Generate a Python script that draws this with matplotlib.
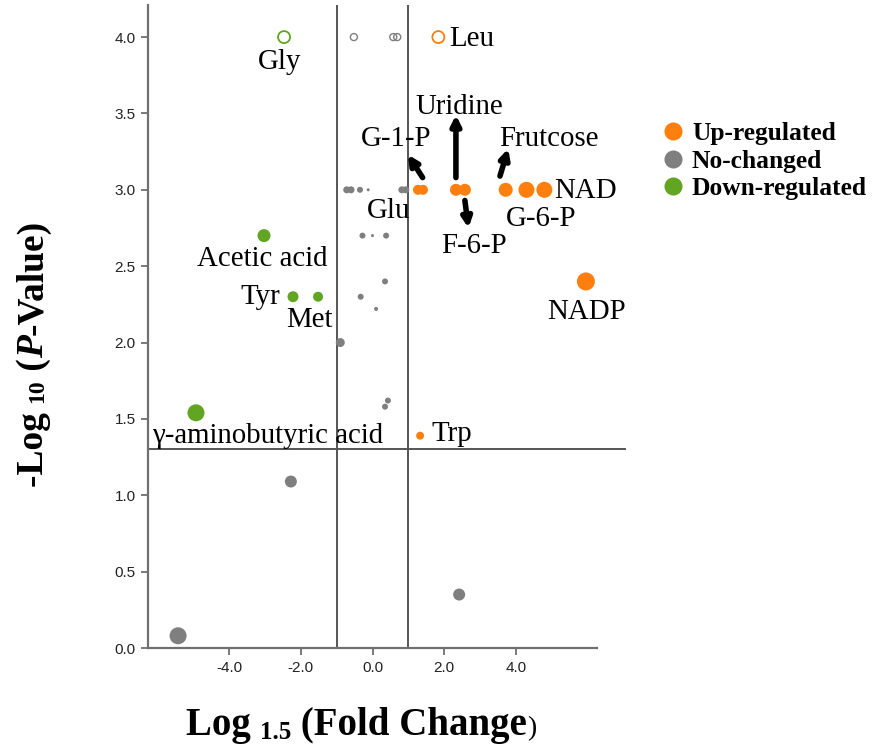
import matplotlib
matplotlib.use('Agg')
import matplotlib.pyplot as plt
from matplotlib.lines import Line2D
import numpy as np

# ---------------- data ----------------
# Up-regulated (filled orange)
up_x = [1.27, 1.41, 2.33, 2.58, 3.72, 4.30, 4.80, 5.96, 1.33]
up_y = [3.00, 3.00, 3.00, 3.00, 3.00, 3.00, 3.00, 2.40, 1.39]
up_r = [5.0, 5.0, 6.0, 6.0, 7.0, 8.0, 8.0, 9.0, 4.0]
# Down-regulated (filled green)
down_x = [-3.03, -2.22, -1.52, -4.93]
down_y = [2.70, 2.30, 2.30, 1.54]
down_r = [6.5, 5.5, 5.0, 8.5]
# No-changed (filled gray)
ns_x = [-0.72, -0.60, -0.35, -0.12, 0.82, 0.93,
        -0.28, 0.00, 0.38, 0.35, -0.33, 0.10, -0.90,
        0.43, 0.35, -2.28, 2.42, -5.43]
ns_y = [3.00, 3.00, 3.00, 3.00, 3.00, 3.00,
        2.70, 2.70, 2.70, 2.40, 2.30, 2.22, 2.00,
        1.62, 1.58, 1.09, 0.35, 0.08]
ns_r = [3.5, 3.5, 3.0, 1.5, 3.5, 3.5,
        3.0, 1.5, 3.0, 3.0, 3.0, 2.0, 4.5,
        3.0, 3.0, 6.0, 6.0, 8.5]
# Open (hollow) circles at the top
open_up_x, open_up_y, open_up_r = [1.84], [4.0], [6.0]
open_down_x, open_down_y, open_down_r = [-2.47], [4.0], [6.0]
open_ns_x = [-0.52, 0.58, 0.69]
open_ns_y = [4.0, 4.0, 4.0]
open_ns_r = [3.5, 3.5, 3.5]

fc_threshold = [-1.0, 1.0]
p_threshold = 1.3

xticks = [-4, -2, 0, 2, 4]
yticks = [0.0, 0.5, 1.0, 1.5, 2.0, 2.5, 3.0, 3.5, 4.0]
legend_labels = ['Up-regulated', 'No-changed', 'Down-regulated']

C_UP = '#ff7f0e'
C_NS = '#7f7f7f'
C_DOWN = '#62a523'

# ---------------- figure ----------------
W, H = 872, 747
fig = plt.figure(figsize=(W / 100, H / 100), dpi=100)
ax = fig.add_axes([148 / W, (H - 648) / H, (597 - 148) / W, (648 - 5) / H])
ax.set_xlim(-6.27, 6.27)
ax.set_ylim(0, 4.21)


def s_of(r):
    return (2 * np.asarray(r) * 0.72) ** 2


ax.scatter(ns_x, ns_y, s=s_of(ns_r), c=C_NS, edgecolors='none', zorder=3)
ax.scatter(up_x, up_y, s=s_of(up_r), c=C_UP, edgecolors='none', zorder=3)
ax.scatter(down_x, down_y, s=s_of(down_r), c=C_DOWN, edgecolors='none', zorder=3)
ax.scatter(open_ns_x, open_ns_y, s=s_of(open_ns_r), facecolors='none',
           edgecolors=C_NS, linewidths=1.0, zorder=3)
ax.scatter(open_up_x, open_up_y, s=s_of(open_up_r), facecolors='none',
           edgecolors=C_UP, linewidths=1.3, zorder=3)
ax.scatter(open_down_x, open_down_y, s=s_of(open_down_r), facecolors='none',
           edgecolors=C_DOWN, linewidths=1.3, zorder=3)

# threshold lines
for xv in fc_threshold:
    ax.axvline(xv, color='#555555', lw=1.4, zorder=1)
ax.plot([-6.27, 7.05], [p_threshold, p_threshold], color='#555555', lw=1.4,
        clip_on=False, zorder=1)

# spines / ticks
for sp in ['top', 'right']:
    ax.spines[sp].set_visible(False)
for sp in ['left', 'bottom']:
    ax.spines[sp].set_color('#707070')
    ax.spines[sp].set_linewidth(1.6)
ax.set_xticks(xticks)
ax.set_xticklabels([f'{v:.1f}' for v in xticks])
ax.set_yticks(yticks)
ax.set_yticklabels([f'{v:.1f}' for v in yticks])
ax.tick_params(direction='out', length=5, width=1.3, color='#707070',
               labelsize=11, labelcolor='#222222', pad=4)
for lab in ax.get_xticklabels() + ax.get_yticklabels():
    lab.set_family('Liberation Sans')

# annotations
tfont = dict(family='Liberation Serif', fontsize=20.8, color='black')
labels = [
    ('Gly', -2.58, 3.84, 'center'),
    ('Leu', 2.13, 3.99, 'left'),
    ('Uridine', 2.42, 3.54, 'center'),
    ('G-1-P', 0.66, 3.33, 'center'),
    ('Frutcose', 4.93, 3.33, 'center'),
    ('NAD', 5.08, 2.99, 'left'),
    ('G-6-P', 4.71, 2.81, 'center'),
    ('F-6-P', 2.84, 2.63, 'center'),
    ('Glu', 0.46, 2.86, 'center'),
    ('Acetic acid', -3.09, 2.55, 'center'),
    ('Tyr', -3.14, 2.30, 'center'),
    ('Met', -1.77, 2.15, 'center'),
    ('NADP', 5.99, 2.20, 'center'),
    ('\u03b3-aminobutyric acid', -2.92, 1.39, 'center'),
    ('Trp', 1.66, 1.40, 'left'),
]
for s, x, y, ha in labels:
    ax.text(x, y, s, ha=ha, va='center', zorder=4, **tfont)

arrows = [
    ((1.40, 3.08), (0.99, 3.23)),
    ((2.33, 3.08), (2.33, 3.49)),
    ((3.56, 3.09), (3.79, 3.27)),
    ((2.58, 2.93), (2.68, 2.75)),
]
for tail, head in arrows:
    ax.annotate('', xy=head, xytext=tail,
                arrowprops=dict(arrowstyle='-|>', lw=4, color='black',
                                mutation_scale=14, shrinkA=0, shrinkB=0),
                zorder=5)

# legend
handles = [Line2D([], [], marker='o', ls='', markersize=13,
                  markerfacecolor=c, markeredgecolor='none', label=l)
           for c, l in zip([C_UP, C_NS, C_DOWN], legend_labels)]
fig.legend(handles=handles, loc='upper left',
           bbox_to_anchor=(660 / W, (H - 122) / H), frameon=False,
           prop=dict(family='Liberation Serif', weight='bold', size=18.4),
           handletextpad=0.25, labelspacing=0.18, handlelength=1.0,
           borderpad=0, borderaxespad=0)

# axis labels built from pieces
renderer = fig.canvas.get_renderer()


def pieces_label(pieces, cx, cy, vertical=False):
    objs = []
    for s, size, weight, style, shift in pieces:
        t = fig.text(0, 0, s, fontsize=size, fontweight=weight, fontstyle=style,
                     family='Liberation Serif', transform=None, ha='left',
                     va='baseline', rotation=90 if vertical else 0,
                     rotation_mode='anchor', color='black')
        objs.append((t, shift))
    widths = []
    for t, _ in objs:
        bb = t.get_window_extent(renderer)
        widths.append(bb.height if vertical else bb.width)
    pos = -sum(widths) / 2
    for (t, shift), w in zip(objs, widths):
        if vertical:
            t.set_position((cx + shift, cy + pos))
        else:
            t.set_position((cx + pos, cy - shift))
        pos += w


pieces_label([('Log ', 28, 'bold', 'normal', 0),
              ('1.5', 18, 'bold', 'normal', 4),
              (' (Fold Change', 28, 'bold', 'normal', 0),
              (')', 20, 'normal', 'normal', 0)],
             361, H - 735)

pieces_label([('-Log ', 27, 'bold', 'normal', 0),
              ('10', 17, 'bold', 'normal', 0),
              (' (', 27, 'bold', 'normal', 0),
              ('P', 27, 'bold', 'italic', 0),
              ('-Value)', 27, 'bold', 'normal', 0)],
             43, H - 353.5, vertical=True)

fig.savefig('out.png', dpi=100)
